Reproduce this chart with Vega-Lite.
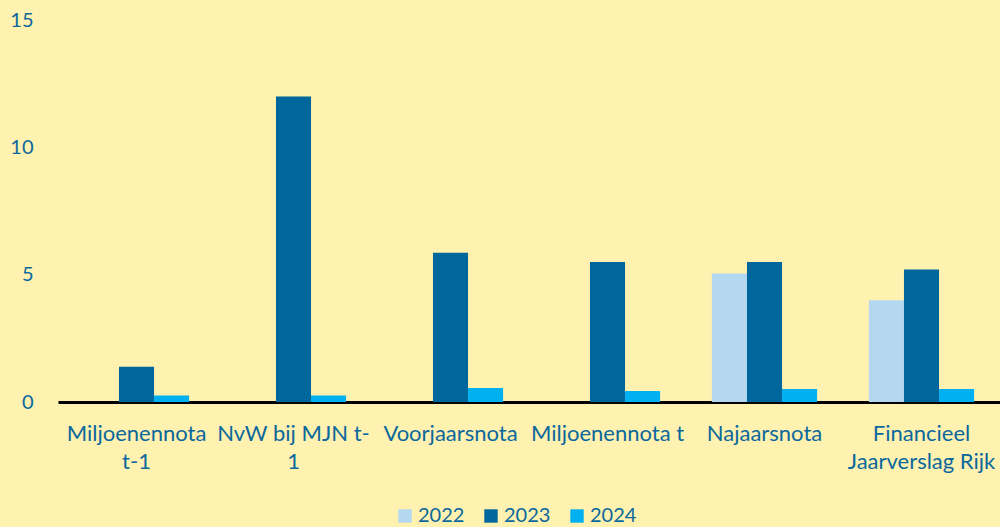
{
  "$schema": "https://vega.github.io/schema/vega-lite/v6.json",
  "autosize": {"type": "none"},
  "width": 942,
  "height": 382,
  "padding": {"left": 58, "top": 20, "right": 0, "bottom": 125},
  "background": "#FFF1AF",
  "config": {
    "view": {"stroke": null},
    "font": "Lato",
    "axis": {"labelFont": "Lato", "labelColor": "#0B689D"},
    "legend": {"labelFont": "Lato", "labelColor": "#0B689D"}
  },
  "data": {
    "values": [
      {"categorie": "Miljoenennota|t-1", "jaar": "2023", "waarde": 1.38},
      {"categorie": "Miljoenennota|t-1", "jaar": "2024", "waarde": 0.26},
      {"categorie": "NvW bij MJN t-|1", "jaar": "2023", "waarde": 12.0},
      {"categorie": "NvW bij MJN t-|1", "jaar": "2024", "waarde": 0.26},
      {"categorie": "Voorjaarsnota", "jaar": "2023", "waarde": 5.86},
      {"categorie": "Voorjaarsnota", "jaar": "2024", "waarde": 0.55},
      {"categorie": "Miljoenennota t", "jaar": "2023", "waarde": 5.5},
      {"categorie": "Miljoenennota t", "jaar": "2024", "waarde": 0.43},
      {"categorie": "Najaarsnota", "jaar": "2022", "waarde": 5.05},
      {"categorie": "Najaarsnota", "jaar": "2023", "waarde": 5.5},
      {"categorie": "Najaarsnota", "jaar": "2024", "waarde": 0.51},
      {"categorie": "Financieel|Jaarverslag Rijk", "jaar": "2022", "waarde": 4.0},
      {"categorie": "Financieel|Jaarverslag Rijk", "jaar": "2023", "waarde": 5.2},
      {"categorie": "Financieel|Jaarverslag Rijk", "jaar": "2024", "waarde": 0.51}
    ]
  },
  "mark": {"type": "bar"},
  "encoding": {
    "x": {
      "field": "categorie",
      "type": "nominal",
      "sort": null,
      "scale": {"paddingInner": 0.33, "paddingOuter": 0.165},
      "axis": {
        "title": null,
        "labelAngle": 0,
        "labelExpr": "split(datum.value, '|')",
        "labelFontSize": 22,
        "labelLineHeight": 28,
        "labelPadding": 21,
        "ticks": false,
        "domainColor": "#000000",
        "domainWidth": 3,
        "labelLimit": 200
      }
    },
    "xOffset": {"field": "jaar", "type": "nominal", "sort": ["2022", "2023", "2024"]},
    "y": {
      "field": "waarde",
      "type": "quantitative",
      "scale": {"domain": [0, 15], "nice": false},
      "axis": {
        "title": null,
        "values": [0, 5, 10, 15],
        "grid": false,
        "domain": false,
        "ticks": false,
        "labelFontSize": 20,
        "labelPadding": 25
      }
    },
    "color": {
      "field": "jaar",
      "type": "nominal",
      "scale": {"domain": ["2022", "2023", "2024"], "range": ["#B4D8F0", "#00679C", "#00B0F0"]},
      "legend": {
        "title": null,
        "orient": "none",
        "direction": "horizontal",
        "legendX": 337,
        "legendY": 486,
        "symbolType": "square",
        "symbolSize": 180,
        "symbolStrokeWidth": 0,
        "labelFontSize": 20,
        "columnPadding": 16,
        "labelOffset": 3
      }
    }
  }
}
